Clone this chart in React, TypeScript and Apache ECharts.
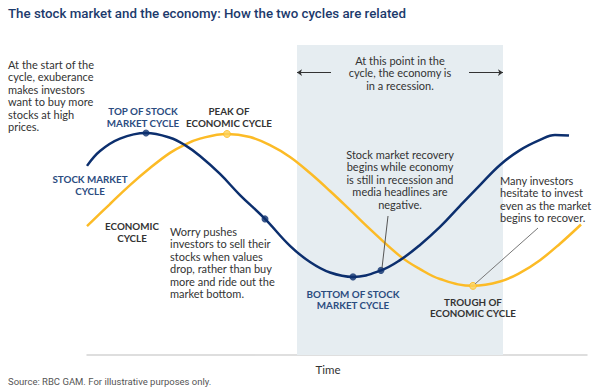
import React, { useEffect, useRef } from "react";
import * as echarts from "echarts";

// Stock market cycle (time 0–100, level 0–100)
const TIME_STOCK = [0, 2.6, 6.6, 11.8, 16.6, 19.6, 22.6, 26.6, 30.6, 35.6, 40.6, 44.6, 48.6, 53.2, 58.8, 62.6, 66.6, 70.6, 74.6, 78.6, 82.6, 86.6, 90.6, 93.6, 96.4];
const STOCK_LEVEL = [61.0, 65.8, 69.8, 71.6, 70.1, 67.7, 64.2, 58.4, 51.6, 43.9, 35.2, 30.0, 26.6, 25.2, 27.3, 30.6, 35.5, 41.3, 48.1, 54.8, 61.3, 66.1, 69.4, 71.0, 70.8];
// Economic cycle
const TIME_ECON = [0, 4.6, 8.6, 12.6, 16.6, 19.6, 22.6, 28.0, 32.6, 36.6, 40.6, 44.6, 48.6, 52.6, 56.6, 62.6, 66.6, 70.6, 77.2, 82.6, 86.6, 90.6, 94.6, 98.8];
const ECON_LEVEL = [41.6, 48.7, 54.8, 60.3, 65.2, 67.9, 69.8, 71.3, 70.3, 67.7, 63.9, 58.7, 52.9, 46.8, 40.6, 31.9, 27.7, 24.5, 22.3, 23.7, 26.5, 30.6, 35.9, 42.1];
// Marked points
const STOCK_MARKER_T = [11.8, 35.6, 53.2, 58.8];
const STOCK_MARKER_V = [71.6, 43.9, 25.2, 27.3];
const ECON_MARKER_T = [28.0, 77.2];
const ECON_MARKER_V = [71.3, 22.3];
// Recession window (time)
const RECESSION = [42, 83.2];
const RECESSION_ARROW_LEVEL = 91.1;
const RECESSION_ARROW_INNER = [48.8, 76.4];

const NAVY = "#0c2f6e";
const YELLOW = "#fcbb26";
const SHADE = "#e6edf1";
const LABEL_NAVY = "#2b4c7f";
const TEXT = "#333333";
const BODY_FONT = "Lato";

const zip = (a: number[], b: number[]) => a.map((v, i) => [v, b[i]]);

function txt(text: string, x: number, y: number, opts: any = {}) {
  return {
    type: "text",
    x,
    y,
    z: 100,
    silent: true,
    style: {
      text,
      fill: opts.fill || TEXT,
      fontFamily: opts.fontFamily || BODY_FONT,
      fontSize: opts.fontSize || 11,
      fontWeight: opts.fontWeight || "normal",
      lineHeight: opts.lineHeight || 12.6,
      align: opts.align || "left",
      verticalAlign: "top",
    },
  };
}

export default function App() {
  const ref = useRef<HTMLDivElement>(null);
  useEffect(() => {
    if (!ref.current) return;
    const chart = echarts.init(ref.current, undefined, { renderer: "svg" });
    const lbl = { fontSize: 9.8, fontWeight: "bold", lineHeight: 11.5 };
    chart.setOption({
      animation: false,
      grid: { left: 87, top: 45, width: 500, height: 310 },
      xAxis: {
        type: "value",
        min: 0,
        max: 100,
        axisLine: { show: true, lineStyle: { color: "#d4d4d4", width: 1.5 } },
        axisTick: { show: false },
        axisLabel: { show: false },
        splitLine: { show: false },
      },
      yAxis: {
        type: "value",
        min: 0,
        max: 100,
        show: false,
        splitLine: { show: false },
      },
      series: [
        {
          name: "Economic cycle",
          type: "line",
          data: zip(TIME_ECON, ECON_LEVEL),
          smooth: 0.4,
          showSymbol: false,
          silent: true,
          lineStyle: { color: YELLOW, width: 2.5 },
          z: 3,
        },
        {
          name: "Stock market cycle",
          type: "line",
          data: zip(TIME_STOCK, STOCK_LEVEL),
          smooth: 0.4,
          showSymbol: false,
          silent: true,
          lineStyle: { color: NAVY, width: 2.5 },
          z: 4,
          markArea: {
            silent: true,
            itemStyle: { color: SHADE },
            data: [[{ xAxis: RECESSION[0] }, { xAxis: RECESSION[1] }]],
          },
          markLine: {
            silent: true,
            symbol: ["none", "arrow"],
            symbolSize: 5,
            label: { show: false },
            lineStyle: { color: TEXT, width: 1, type: "solid" },
            data: [
              [
                { coord: [RECESSION_ARROW_INNER[0], RECESSION_ARROW_LEVEL] },
                { coord: [RECESSION[0], RECESSION_ARROW_LEVEL] },
              ],
              [
                { coord: [RECESSION_ARROW_INNER[1], RECESSION_ARROW_LEVEL] },
                { coord: [RECESSION[1], RECESSION_ARROW_LEVEL] },
              ],
            ],
          },
        },
        {
          name: "Stock markers",
          type: "scatter",
          data: zip(STOCK_MARKER_T, STOCK_MARKER_V),
          symbolSize: 7,
          silent: true,
          itemStyle: { color: NAVY },
          z: 5,
        },
        {
          name: "Economic markers",
          type: "scatter",
          data: zip(ECON_MARKER_T, ECON_MARKER_V),
          symbolSize: 7,
          silent: true,
          itemStyle: { color: "#fdd25a", borderColor: YELLOW, borderWidth: 1 },
          z: 5,
        },
      ],
      graphic: [
        txt("The stock market and the economy: How the two cycles are related", 8, 5, {
          fontFamily: "Roboto",
          fontSize: 13.3,
          fontWeight: 500,
          fill: "#1c3a6c",
          lineHeight: 16,
        }),
        txt("At the start of the\ncycle, exuberance\nmakes investors\nwant to buy more\nstocks at high\nprices.", 8, 57.7),
        txt("TOP OF STOCK\nMARKET CYCLE", 143, 105.5, { ...lbl, align: "center", fill: LABEL_NAVY }),
        txt("PEAK OF\nECONOMIC CYCLE", 229, 105.5, { ...lbl, align: "center" }),
        txt("STOCK MARKET\nCYCLE", 90, 173.5, { ...lbl, align: "center", fill: LABEL_NAVY }),
        txt("ECONOMIC\nCYCLE", 132, 220.5, { ...lbl, align: "center" }),
        txt("Worry pushes\ninvestors to sell their\nstocks when values\ndrop, rather than buy\nmore and ride out the\nmarket bottom.", 170, 224.7),
        txt("At this point in the\ncycle, the economy is\nin a recession.", 400, 53.8, { align: "center" }),
        txt("Stock market recovery\nbegins while economy\nis still in recession and\nmedia headlines are\nnegative.", 400, 147.7, { align: "center" }),
        txt("BOTTOM OF STOCK\nMARKET CYCLE", 353, 288.2, { ...lbl, align: "center", fill: LABEL_NAVY }),
        txt("TROUGH OF\nECONOMIC CYCLE", 473, 296.2, { ...lbl, align: "center" }),
        txt("Many investors\nhesitate to invest\neven as the market\nbegins to recover.", 500, 173.7),
        txt("Time", 328, 363, { fontSize: 11.5, align: "center" }),
        txt("Source: RBC GAM. For illustrative purposes only.", 8, 376, {
          fontFamily: "Roboto",
          fontSize: 9.5,
          fill: "#555555",
          lineHeight: 11,
        }),
        {
          type: "line",
          z: 100,
          silent: true,
          shape: { x1: 388, y1: 216, x2: 382, y2: 268 },
          style: { stroke: "#555555", lineWidth: 1 },
        },
        {
          type: "line",
          z: 100,
          silent: true,
          shape: { x1: 538, y1: 228, x2: 475, y2: 284 },
          style: { stroke: "#777777", lineWidth: 1 },
        },
      ],
    });
    return () => chart.dispose();
  }, []);
  return (
    <div
      ref={ref}
      style={{ position: "fixed", left: 0, top: 0, width: 602, height: 390, background: "#fff" }}
    />
  );
}
